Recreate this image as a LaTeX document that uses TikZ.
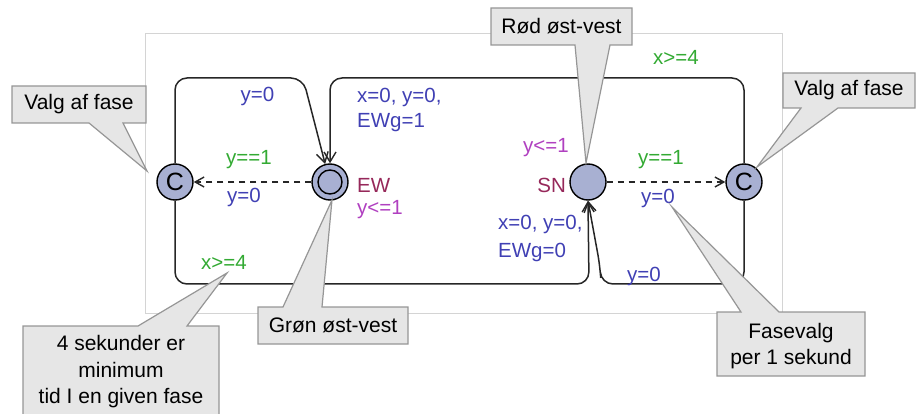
\documentclass[tikz,border=0pt]{standalone}
\usepackage{fontspec}
\setmainfont{Liberation Sans}
\usetikzlibrary{arrows.meta}

\definecolor{locfill}{RGB}{168,176,210}
\definecolor{asgn}{RGB}{64,64,180}
\definecolor{grd}{RGB}{51,170,51}
\definecolor{inv}{RGB}{176,64,192}
\definecolor{lname}{RGB}{150,40,90}
\definecolor{notefill}{RGB}{230,230,230}
\definecolor{noteline}{RGB}{150,150,150}
\definecolor{framecol}{RGB}{212,212,212}

\begin{document}
\begin{tikzpicture}[x=1pt,y=-1pt,
  loc/.style={circle, draw=black, line width=1.4pt, fill=locfill,
    minimum size=36pt, inner sep=0pt, font=\fontsize{25}{28}\selectfont},
  edge/.style={line width=1.5pt, draw=black!85, rounded corners=12pt,
    -{Straight Barb[length=10pt,width=12pt,line width=1.4pt]}},
  dashedge/.style={edge, dash pattern=on 6pt off 5pt,
    -{Straight Barb[length=9pt,width=10pt,line width=1.4pt]}},
  lbl/.style={font=\fontsize{20.5}{26}\selectfont, inner sep=0pt},
  asg/.style={lbl, text=asgn},
  grdl/.style={lbl, text=grd},
  invl/.style={lbl, text=inv},
  namel/.style={lbl, text=lname},
  note/.style={fill=notefill, draw=noteline, line width=1.2pt, line join=miter},
  notetext/.style={font=\fontsize{21}{26.5}\selectfont, align=center, inner sep=0pt}]

\useasboundingbox (0,0) rectangle (916,414);

% template frame
\draw[framecol, line width=1pt] (145,34) rectangle (782,313);

% locations
\node[loc] (lc) at (175,182) {C};
\node[loc] (ew) at (330,182) {};
\draw[line width=1.4pt] (ew.center) circle[radius=12pt];
\node[loc] (sn) at (588,182) {};
\node[loc] (rc) at (744,182) {C};

% edges
\draw[edge] (lc.north) -- (175,78) -- (303,78) -- (ew.105);
\draw[edge] (rc.north) -- (744,78) -- (330,78) -- (ew.north);
\draw[edge] (lc.south) -- (175,284) -- (589,284) -- (sn.south);
\draw[edge] (rc.south) -- (744,284) -- (601,284) -- (600,266) -- (sn.south);
\draw[dashedge] (ew) -- (lc);
\draw[dashedge] (sn) -- (rc);

% location names and invariants
\node[namel, anchor=west] (ewname) at (357,185) {EW};
\node[invl, anchor=west] (ewinv) at (357,210) {y<=1};
\node[namel, anchor=east] (snname) at (566,185) {SN};
\node[invl] (sninv) at (546,148) {y<=1};

% guards and updates
\node[asg] (a1) at (257.5,96) {y=0};
\node[asg, anchor=west] (a2) at (357,97) {x=0, y=0,};
\node[asg, anchor=west] (a3) at (357,123) {EWg=1};
\node[grdl] (g1) at (676,57) {x>=4};
\node[grdl] (g2) at (249,160) {y==1};
\node[asg] (a4) at (244,197) {y=0};
\node[grdl] (g3) at (661,160) {y==1};
\node[asg] (a5) at (658,198) {y=0};
\node[asg, anchor=west] (a6) at (498,224) {x=0, y=0,};
\node[asg, anchor=west] (a7) at (498,252) {EWg=0};
\node[asg] (a8) at (644,276) {y=0};
\node[grdl] (g4) at (224,262) {x>=4};

% comments
\path[note] (12,86) -- (146,86) -- (146,123) -- (123,123) -- (147,171)
  -- (89,123) -- (12,123) -- cycle;
\node[notetext] (noteL) at (79,104.5) {Valg af fase};

\path[note] (491,8) -- (632,8) -- (632,45) -- (610,45) -- (586,163)
  -- (575,45) -- (491,45) -- cycle;
\node[notetext] (noteRed) at (561.5,26.5) {Rød øst-vest};

\path[note] (783,73) -- (915,73) -- (915,108) -- (838,108) -- (757,167)
  -- (801,108) -- (783,108) -- cycle;
\node[notetext] (noteR) at (849,90.5) {Valg af fase};

\path[note] (258,307) -- (283,307) -- (332,200) -- (322,307) -- (408,307)
  -- (408,344) -- (258,344) -- cycle;
\node[notetext] (noteGreen) at (333,325.5) {Grøn øst-vest};

\path[note] (23,326) -- (138,326) -- (227,273) -- (187,326) -- (219,326)
  -- (219,424) -- (23,424) -- cycle;
\node[notetext] (noteMin) at (121,372) {4 sekunder er\\minimum\\tid I en given fase};

\path[note] (717,312) -- (741,312) -- (672,207) -- (779,312) -- (865,312)
  -- (865,376) -- (717,376) -- cycle;
\node[notetext] (notePhase) at (791,346) {Fasevalg\\per 1 sekund};

\end{tikzpicture}
\end{document}
